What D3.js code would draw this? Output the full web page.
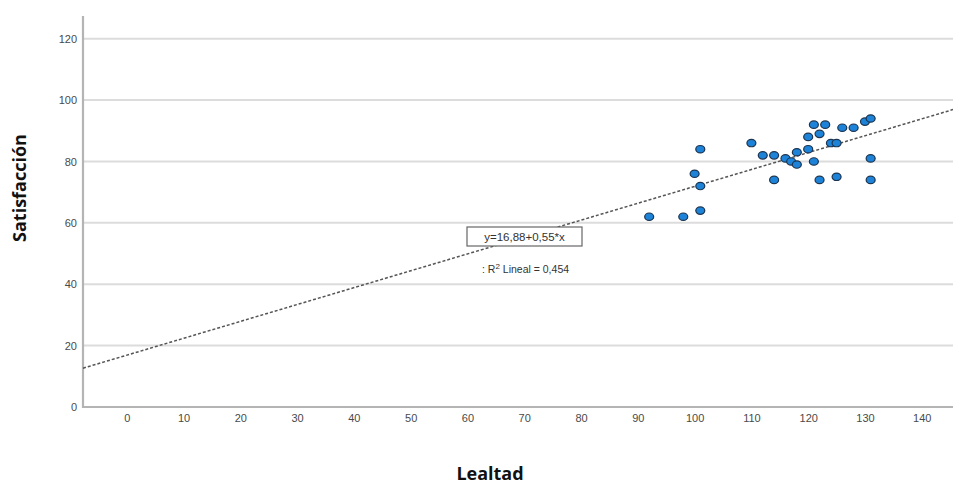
<!DOCTYPE html>
<html lang="es">
<head>
<meta charset="utf-8">
<title>Satisfacción vs Lealtad</title>
<script src="https://d3js.org/d3.v7.min.js"></script>
<style>
  body { margin: 0; background: #fff; }
  .tick text { font-family: "Liberation Sans", Arial, sans-serif; font-size: 11px; fill: #4a4a4a; }
  .title { font-family: "Open Sans", "Noto Sans", sans-serif; font-weight: bold; font-size: 18px; fill: #111; }
</style>
</head>
<body>
<script>
// data
var lealtad = [92, 98, 101, 101, 100, 101, 110, 112, 114, 114, 116, 117, 118, 118, 120,
               120, 121, 121, 122, 122, 123, 124, 125, 125, 126, 128, 130, 131, 131, 131];
var satisfaccion = [62, 62, 64, 84, 76, 72, 86, 82, 82, 74, 81, 80, 79, 83, 84,
                    88, 92, 80, 89, 74, 92, 86, 86, 75, 91, 91, 93, 94, 81, 74];
var xTicks = [0, 10, 20, 30, 40, 50, 60, 70, 80, 90, 100, 110, 120, 130, 140];
var yTicks = [0, 20, 40, 60, 80, 100, 120];
var intercept = 16.88, slope = 0.55;
var eqLabel = "y=16,88+0,55*x";
var r2Label = "Lineal = 0,454";

var w = 953, h = 486;
var plotLeft = 83, plotRight = 953, plotTop = 16, plotBottom = 407;

var svg = d3.select("body").append("svg")
  .attr("width", w).attr("height", h);

var x = d3.scaleLinear().domain([-7.7, 145.5]).range([plotLeft, plotRight]);
var y = d3.scaleLinear().domain([0, 127.4]).range([plotBottom, plotTop]);

// gridlines
svg.append("g").selectAll("line")
  .data(yTicks.filter(function(d) { return d > 0; }))
  .join("line")
  .attr("x1", plotLeft).attr("x2", plotRight)
  .attr("y1", function(d) { return y(d); }).attr("y2", function(d) { return y(d); })
  .attr("stroke", "#dcdcdc").attr("stroke-width", 2);

// axes
var yAxis = svg.append("g")
  .attr("transform", "translate(" + plotLeft + ",0)")
  .call(d3.axisLeft(y).tickValues(yTicks).tickSize(0).tickPadding(6));
var xAxis = svg.append("g")
  .attr("transform", "translate(0," + plotBottom + ")")
  .call(d3.axisBottom(x).tickValues(xTicks).tickSize(0).tickPadding(7));
yAxis.select(".domain").remove();
xAxis.select(".domain").remove();

svg.append("path")
  .attr("d", "M" + plotLeft + "," + plotTop + "V" + plotBottom + "H" + plotRight)
  .attr("fill", "none").attr("stroke", "#b4b4b4").attr("stroke-width", 2.2);

// regression line
var xd = x.domain();
svg.append("line")
  .attr("x1", x(xd[0])).attr("y1", y(intercept + slope * xd[0]))
  .attr("x2", x(xd[1])).attr("y2", y(intercept + slope * xd[1]))
  .attr("stroke", "#555").attr("stroke-width", 1.5)
  .attr("stroke-dasharray", "3,2");

// points
svg.append("g").selectAll("ellipse")
  .data(lealtad)
  .join("ellipse")
  .attr("cx", function(d) { return x(d); })
  .attr("cy", function(d, i) { return y(satisfaccion[i]); })
  .attr("rx", 4.5).attr("ry", 3.7)
  .attr("fill", "#1c83d8")
  .attr("stroke", "#1d3550").attr("stroke-width", 1.2);

// equation box
var eq = svg.append("g").attr("transform", "translate(467,227)");
eq.append("rect")
  .attr("width", 115).attr("height", 19)
  .attr("fill", "#fff").attr("stroke", "#666").attr("stroke-width", 1.2);
eq.append("text")
  .attr("x", 57.5).attr("y", 14)
  .attr("text-anchor", "middle")
  .style("font-family", "'Liberation Sans', Arial, sans-serif")
  .style("font-size", "11.5px").style("fill", "#333")
  .text(eqLabel);

var r2 = svg.append("text")
  .attr("x", 482).attr("y", 273)
  .style("font-family", "'Liberation Sans', Arial, sans-serif")
  .style("font-size", "10.5px").style("fill", "#333");
r2.append("tspan").text(": R");
r2.append("tspan").attr("dy", -4).style("font-size", "8px").text("2");
r2.append("tspan").attr("dy", 4).text(" " + r2Label);

// axis titles
svg.append("text").attr("class", "title")
  .attr("text-anchor", "middle")
  .attr("transform", "translate(26,188) rotate(-90)")
  .text("Satisfacción");
svg.append("text").attr("class", "title")
  .attr("x", 490).attr("y", 480)
  .attr("text-anchor", "middle")
  .text("Lealtad");
</script>
</body>
</html>
